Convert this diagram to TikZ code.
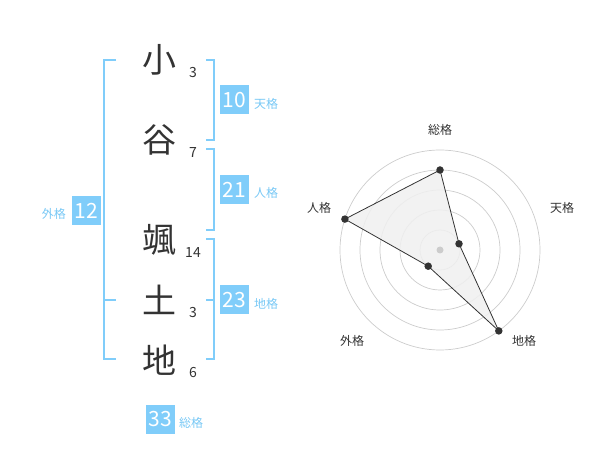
\documentclass[tikz,border=0pt]{standalone}
\usepackage{fontspec}
\setmainfont{Noto Sans CJK JP}
\definecolor{boxblue}{RGB}{128,205,250}
\definecolor{labblue}{RGB}{120,200,245}
\definecolor{ink}{RGB}{51,51,51}
\definecolor{ring}{RGB}{204,204,204}
\begin{document}
\begin{tikzpicture}[x=1pt,y=-1pt,
  kanji/.style={font=\fontsize{34}{34}\selectfont, text=ink, inner sep=0},
  strokes/.style={font=\fontsize{14}{14}\selectfont, text=ink, inner sep=0},
  numbox/.style={fill=boxblue, text=white, minimum width=29pt, minimum height=29pt, inner sep=0, font=\fontsize{21}{21}\selectfont},
  lab/.style={text=labblue, font=\fontsize{12}{12}\selectfont, inner sep=0},
  brk/.style={draw=boxblue, line width=1.6pt},
  ringc/.style={draw=ring, line width=0.7pt},
  axlab/.style={text=ink, font=\fontsize{12}{12}\selectfont, inner sep=0},
  dot/.style={circle, fill=ink, inner sep=0, minimum size=7.5pt}]
\useasboundingbox (0,0) rectangle (600,470);
% name characters
\node[kanji] (k1) at (159,60) {小};
\node[kanji] (k2) at (159,140) {谷};
\node[kanji] (k3) at (159,240) {颯};
\node[kanji] (k4) at (159,300) {土};
\node[kanji] (k5) at (159,360) {地};
\node[strokes] (s1) at (193,73) {3};
\node[strokes] (s2) at (193,153) {7};
\node[strokes] (s3) at (193,253) {14};
\node[strokes] (s4) at (193,313) {3};
\node[strokes] (s5) at (193,373) {6};
% brackets
\draw[brk] (116,60) -- (104,60) -- (104,359) -- (116,359);
\draw[brk] (104,300) -- (116,300);
\draw[brk] (206,60) -- (214,60) -- (214,140) -- (206,140);
\draw[brk] (206,149) -- (214,149) -- (214,230) -- (206,230);
\draw[brk] (206,239) -- (214,239) -- (214,359) -- (206,359);
\draw[brk] (214,300) -- (206,300);
% boxes and labels
\node[numbox] (b10) at (234.5,100) {10};
\node[lab, anchor=west] (l10) at (254,104) {天格};
\node[numbox] (b21) at (234.5,190) {21};
\node[lab, anchor=west] (l21) at (254,193) {人格};
\node[numbox] (b23) at (234.5,300) {23};
\node[lab, anchor=west] (l23) at (254,304) {地格};
\node[numbox] (b12) at (86.5,210.5) {12};
\node[lab, anchor=east] (l12) at (66,214) {外格};
\node[numbox] (b33) at (160.5,419) {33};
\node[lab, anchor=west] (l33) at (179,423) {総格};
% radar chart
\coordinate (c) at (440,250);
\foreach \r in {20,40,60,80,100} \draw[ringc] (c) circle[radius=\r];
\coordinate (p1) at (440,170);
\coordinate (p2) at (459.0,243.8);
\coordinate (p3) at (498.8,330.9);
\coordinate (p4) at (428.2,266.2);
\coordinate (p5) at (344.9,219.1);
\draw[fill=black!6, fill opacity=0.85, draw=ink, line width=0.8pt] (p1) -- (p2) -- (p3) -- (p4) -- (p5) -- cycle;
\node[circle, fill=ring, inner sep=0, minimum size=7pt] (cd) at (c) {};
\foreach \p in {p1,p2,p3,p4,p5} \node[dot] at (\p) {};
\node[axlab] (a1) at (440,130) {総格};
\node[axlab] (a2) at (562,208) {天格};
\node[axlab] (a3) at (524,341) {地格};
\node[axlab] (a4) at (352,341) {外格};
\node[axlab] (a5) at (319,208) {人格};
\end{tikzpicture}
\end{document}
